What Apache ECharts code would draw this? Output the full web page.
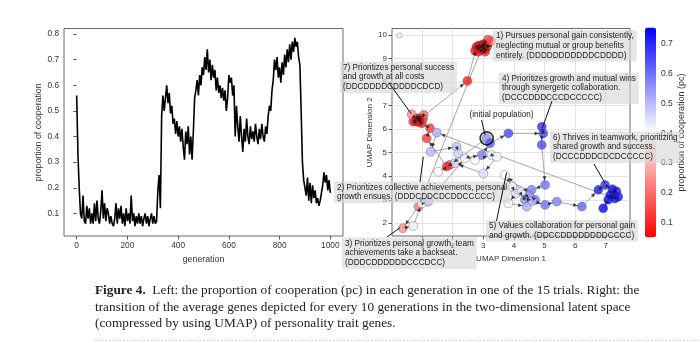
<!DOCTYPE html>
<html>
<head>
<meta charset="utf-8">
<script src="https://cdn.jsdelivr.net/npm/echarts@6/dist/echarts.min.js"></script>
<style>
html, body { margin: 0; padding: 0; background: #fff; }
#chart { width: 700px; height: 343px; }
</style>
</head>
<body>
<div id="chart"></div>
<script>
// ---- Left panel: proportion of cooperation, one value every GEN_STEP generations ----
const GEN_STEP = 5;
const pcByGeneration = [
  0.56,0.33,0.20,0.10,0.08,0.17,0.07,0.06,0.13,0.08,
  0.12,0.06,0.10,0.06,0.14,0.07,0.15,0.08,0.06,0.11,
  0.19,0.08,0.14,0.07,0.12,0.10,0.06,0.09,0.06,0.05,
  0.08,0.14,0.06,0.12,0.08,0.13,0.06,0.10,0.05,0.12,
  0.07,0.10,0.06,0.17,0.07,0.10,0.05,0.09,0.06,0.10,
  0.06,0.09,0.05,0.08,0.10,0.06,0.09,0.05,0.08,0.10,
  0.06,0.09,0.06,0.07,0.19,0.25,0.12,0.48,0.56,0.50,
  0.55,0.60,0.53,0.57,0.49,0.52,0.45,0.47,0.41,0.46,
  0.40,0.44,0.38,0.43,0.36,0.31,0.42,0.37,0.44,0.33,
  0.40,0.31,0.42,0.55,0.58,0.62,0.56,0.64,0.60,0.67,
  0.64,0.71,0.66,0.74,0.65,0.70,0.62,0.68,0.63,0.66,
  0.58,0.63,0.57,0.60,0.55,0.59,0.54,0.58,0.50,0.55,
  0.64,0.61,0.63,0.56,0.60,0.40,0.52,0.44,0.38,0.48,
  0.40,0.34,0.43,0.38,0.47,0.40,0.37,0.44,0.39,0.42,
  0.38,0.45,0.40,0.37,0.43,0.39,0.45,0.40,0.38,0.44,
  0.41,0.48,0.52,0.50,0.58,0.62,0.70,0.66,0.71,0.63,
  0.67,0.61,0.69,0.64,0.72,0.67,0.74,0.69,0.76,0.70,
  0.77,0.73,0.785,0.75,0.77,0.71,0.68,0.50,0.30,0.23,
  0.20,0.17,0.24,0.15,0.22,0.14,0.21,0.16,0.19,0.14,
  0.16,0.13,0.15,0.18,0.21,0.26,0.22,0.25,0.19,0.23,
  0.18
];
const generationTicks = [0, 200, 400, 600, 800, 1000];
const pcTicks = [0.1, 0.2, 0.3, 0.4, 0.5, 0.6, 0.7, 0.8];

// ---- Right panel: average genes every 10 generations in UMAP space, in time order ----
const umapX = [
  3.11, 1.91, 1.80, 1.15, 1.26,
  0.99, 0.83, 0.71, 0.95, 1.03, 0.66, 0.88, 1.05, 0.92, 0.80, 0.90,
  2.48,
  2.78, 2.95, 3.06, 2.84, 3.12, 3.00, 2.89, 3.25, 2.73, 3.02, 2.92, 3.15, 2.85, 3.05, 2.97,
  0.88, 0.37, 0.71, 0.99, 1.20,
  2.40, 2.95, 3.22, 3.82, 4.96, 4.91, 4.91, 5.02,
  4.58, 4.14, 4.36, 4.69, 4.50, 3.71, 3.95, 4.05, 3.82, 4.42, 4.25, 4.60, 5.02, 5.40, 6.22,
  6.76, 6.98, 7.22, 7.41, 7.08, 6.92, 7.35, 7.15, 7.30,
  1.48, 1.28, 2.13, 2.18, 2.73, 3.27, 3.44, 3.00, 2.07, 1.53
];
const umapY = [
  5.61, 4.48, 4.41, 5.61, 6.04,
  6.25, 6.46, 6.32, 6.38, 6.43, 6.63, 6.30, 6.60, 6.45, 6.33, 6.40,
  8.05,
  9.50, 9.57, 9.29, 9.29, 9.50, 9.43, 9.46, 9.74, 9.33, 9.62, 9.38, 9.80, 9.55, 9.40, 9.50,
  2.71, 1.79, 1.89, 2.85, 2.92,
  4.76, 4.90, 5.40, 5.82, 5.82, 6.10, 5.33, 3.63,
  3.42, 3.42, 3.00, 3.00, 3.20, 4.05, 3.55, 3.25, 2.85, 2.71, 3.35, 2.95, 2.78, 2.92, 2.71,
  3.42, 3.63, 3.45, 3.13, 3.00, 2.64, 3.36, 3.20, 3.05,
  5.85, 5.04, 5.25, 4.97, 4.69, 4.90, 4.83, 4.12, 4.55, 4.19
];
const umapPc = [
  0.56, 0.14, 0.10, 0.12, 0.13,
  0.09, 0.12, 0.08, 0.06, 0.14, 0.24, 0.06, 0.19, 0.07, 0.06, 0.08,
  0.08,
  0.07, 0.06, 0.10, 0.09, 0.08, 0.06, 0.05, 0.19, 0.07, 0.06, 0.05, 0.14, 0.06, 0.06, 0.05,
  0.21, 0.25, 0.38, 0.41, 0.50,
  0.42, 0.58, 0.64, 0.66, 0.67, 0.70, 0.66, 0.60,
  0.58, 0.47, 0.55, 0.60, 0.56, 0.40, 0.42, 0.45, 0.40, 0.52, 0.43, 0.50, 0.60, 0.58, 0.62,
  0.72, 0.70, 0.745, 0.74, 0.75, 0.755, 0.73, 0.75, 0.74,
  0.52, 0.50, 0.49, 0.47, 0.40, 0.42, 0.40, 0.45, 0.46, 0.40
];
const umapXTicks = [0, 1, 2, 3, 4, 5, 6, 7];
const umapYTicks = [2, 3, 4, 5, 6, 7, 8, 9, 10];
const colorbarTicks = [0.1, 0.2, 0.3, 0.4, 0.5, 0.6, 0.7];

// ---- Cluster descriptions ----
const noteTexts = [
  ['1) Pursues personal gain consistently,', 'neglecting mutual or group benefits', 'entirely. (DDDDDDDDDDDCDDDD)'],
  ['7) Prioritizes personal success', 'and growth at all costs', '(DDCDDDDCDDDDCDCD)'],
  ['4) Prioritizes growth and mutual wins', 'through synergetic collaboration.', '(DCCCDDDCCCDCCCCC)'],
  ['6) Thrives in teamwork, prioritizing', 'shared growth and success.', '(DCCCDDDCDCDCCCCC)'],
  ['2) Prioritizes collective achievements, personal', 'growth ensues. (DDDCDDCDCDDCCCCC)'],
  ['3) Prioritizes personal growth, team', 'achievements take a backseat.', '(DDDCDDDDDDCCCDCC)'],
  ['5) Values collaboration for personal gain', 'and growth. (DDCCDDDDDDDDCCCC)']
];
// Where each box sits (px), where its pointer leaves the box (px), and the UMAP point it points at
const noteLayout = [
  { box: [493, 30],    from: [492, 46],    to: [3.10, 9.53] },
  { box: [340, 61.5],  from: [389, 83],    to: [0.64, 6.66] },
  { box: [499, 72.5],  from: [552, 101],   to: [4.93, 6.05] },
  { box: [550, 131.5], from: [594, 164],   to: [6.98, 3.70] },
  { box: [334, 181.5], from: [420, 182],   to: [1.04, 4.83] },
  { box: [342, 237.5], from: [387, 237],   to: [0.28, 1.81] },
  { box: [486, 220],   from: [496.5, 221], to: [3.76, 4.16] }
];
const initialLabel = '(initial population)';

const captionLines = [
  'Left: the proportion of cooperation (pc) in each generation in one of the 15 trials. Right: the',
  'transition of the average genes depicted for every 10 generations in the two-dimensional latent space',
  '(compressed by using UMAP) of personality trait genes.'
];

// ---------------------------------------------------------------------------
const SANS = '"Liberation Sans", Arial, sans-serif';
const TICK_FONT = { fontFamily: SANS, fontSize: 8.3, color: '#333' };
const NAME_FONT = { fontFamily: SANS, fontSize: 8.8, color: '#333' };
const FRAME = '#5a5a5a';

const linePoints = pcByGeneration.map((v, i) => [i * GEN_STEP, v]);
const umapPoints = umapX.map((x, i) => [x, umapY[i], umapPc[i]]);
const MARKER_R = 4.5;

function segmentItem(params, api) {
  const i = params.dataIndex;
  if (i === 0) return null;
  const a = api.coord([umapX[i - 1], umapY[i - 1]]);
  const b = api.coord([umapX[i], umapY[i]]);
  return {
    type: 'line',
    shape: { x1: a[0], y1: a[1], x2: b[0], y2: b[1] },
    style: { stroke: '#9c9c9c', lineWidth: 0.9 }
  };
}

function arrowHeadItem(params, api) {
  const i = params.dataIndex;
  if (i === 0) return null;
  const a = api.coord([umapX[i - 1], umapY[i - 1]]);
  const b = api.coord([umapX[i], umapY[i]]);
  const dx = b[0] - a[0], dy = b[1] - a[1];
  const len = Math.hypot(dx, dy);
  if (len < 1) return null;
  const ux = dx / len, uy = dy / len;
  const back = Math.min(MARKER_R, len * 0.4);
  const tip = [b[0] - ux * back, b[1] - uy * back];
  const base = [tip[0] - ux * 4.2, tip[1] - uy * 4.2];
  const nx = -uy * 1.9, ny = ux * 1.9;
  return {
    type: 'polygon',
    shape: { points: [tip, [base[0] + nx, base[1] + ny], [base[0] - nx, base[1] - ny]] },
    style: { fill: '#1e1e1e', opacity: 0.85 }
  };
}

const chart = echarts.init(document.getElementById('chart'), null, { renderer: 'canvas' });

const option = {
  animation: false,
  backgroundColor: '#ffffff',
  grid: [
    { left: 64, top: 28.5, width: 279, height: 207.5, show: true, borderColor: FRAME, borderWidth: 0.9, backgroundColor: 'transparent' },
    { left: 392, top: 28.5, width: 238, height: 207.5, show: true, borderColor: FRAME, borderWidth: 0.9, backgroundColor: 'transparent' },
    { left: 645, top: 27.5, width: 11, height: 210 }
  ],
  xAxis: [
    {
      gridIndex: 0, type: 'value', min: -50, max: 1050,
      name: 'generation', nameLocation: 'middle', nameGap: 15, nameTextStyle: NAME_FONT,
      axisLine: { show: false },
      axisTick: { show: true, inside: false, length: 3.5, lineStyle: { color: '#333', width: 0.8 }, customValues: generationTicks },
      axisLabel: Object.assign({ margin: 6, customValues: generationTicks, formatter: v => String(v) }, TICK_FONT),
      splitLine: { show: false }
    },
    {
      gridIndex: 1, type: 'value', min: 0.016, max: 7.794,
      name: 'UMAP Dimension 1', nameLocation: 'middle', nameGap: 16.5, nameTextStyle: Object.assign({}, NAME_FONT, { fontSize: 8 }),
      axisLine: { show: false },
      axisTick: { show: true, inside: false, length: 3.5, lineStyle: { color: '#333', width: 0.8 }, customValues: umapXTicks },
      axisLabel: Object.assign({ margin: 6, customValues: umapXTicks }, TICK_FONT, { fontSize: 8 }),
      splitLine: { show: true, lineStyle: { color: '#dedede', width: 0.8 } }
    },
    { gridIndex: 2, type: 'value', min: 0, max: 1, show: false }
  ],
  yAxis: [
    {
      gridIndex: 0, type: 'value', min: 0.012, max: 0.8215,
      name: 'proportion of cooperation', nameLocation: 'middle', nameGap: 20, nameTextStyle: NAME_FONT,
      axisLine: { show: false },
      axisTick: { show: true, inside: false, length: 3.5, lineStyle: { color: '#333', width: 0.8 }, customValues: pcTicks },
      axisLabel: Object.assign({ margin: 5, customValues: pcTicks, formatter: v => v.toFixed(1) }, TICK_FONT),
      splitLine: { show: false }
    },
    {
      gridIndex: 1, type: 'value', min: 1.46, max: 10.276,
      name: 'UMAP Dimension 2', nameLocation: 'middle', nameGap: 17, nameTextStyle: Object.assign({}, NAME_FONT, { fontSize: 8 }),
      axisLine: { show: false },
      axisTick: { show: true, inside: false, length: 3.5, lineStyle: { color: '#333', width: 0.8 }, customValues: umapYTicks },
      axisLabel: Object.assign({ margin: 5, customValues: umapYTicks }, TICK_FONT, { fontSize: 8 }),
      splitLine: { show: true, lineStyle: { color: '#dedede', width: 0.8 } }
    },
    {
      gridIndex: 2, type: 'value', min: 0.05, max: 0.755, position: 'right',
      name: 'proportion of cooperation (pc)', nameLocation: 'middle', nameGap: 18, nameRotate: 90,
      nameTextStyle: Object.assign({}, NAME_FONT, { fontSize: 9 }),
      axisLine: { show: false },
      axisTick: { show: true, inside: false, length: 3.5, lineStyle: { color: '#333', width: 0.8 }, customValues: colorbarTicks },
      axisLabel: Object.assign({ margin: 5, customValues: colorbarTicks, formatter: v => v.toFixed(1) }, TICK_FONT, { fontSize: 8.5 }),
      splitLine: { show: false }
    }
  ],
  visualMap: {
    type: 'continuous', seriesIndex: 2, dimension: 2,
    min: 0.05, max: 0.755, calculable: false, hoverLink: false,
    left: 645, top: 27.5, itemWidth: 11, itemHeight: 210, padding: 0,
    inRange: { color: ['#ff0000', '#ffffff', '#0000ff'] }
  },
  legend: {
    left: 396.5, top: 32.5, padding: 0, itemWidth: 5, itemHeight: 5, selectedMode: false,
    formatter: () => '', textStyle: { fontSize: 1 },
    data: [{ name: 'trajectory', icon: 'circle', itemStyle: { color: '#ffffff', borderColor: '#8a8a8a', borderWidth: 0.8 } }]
  },
  series: [
    {
      type: 'line', xAxisIndex: 0, yAxisIndex: 0, data: linePoints,
      showSymbol: false, symbol: 'none', lineStyle: { color: '#000', width: 1.6 }, z: 3
    },
    {
      type: 'custom', xAxisIndex: 1, yAxisIndex: 1, data: umapPoints,
      encode: { x: 0, y: 1 }, renderItem: segmentItem, z: 2, silent: true
    },
    {
      name: 'trajectory', type: 'scatter', xAxisIndex: 1, yAxisIndex: 1, data: umapPoints,
      symbolSize: 9,
      itemStyle: { opacity: 0.78, borderColor: 'rgba(70,70,70,0.75)', borderWidth: 0.6 },
      z: 3
    },
    {
      type: 'custom', xAxisIndex: 1, yAxisIndex: 1, data: umapPoints,
      encode: { x: 0, y: 1 }, renderItem: arrowHeadItem, z: 4, silent: true
    },
    {
      type: 'scatter', xAxisIndex: 1, yAxisIndex: 1, data: [[umapX[0], umapY[0]]],
      symbolSize: 13, itemStyle: { color: 'rgba(0,0,0,0)', borderColor: '#000', borderWidth: 1.7 }, z: 5
    }
  ]
};
chart.setOption(option);

// ---- Annotation boxes, pointers and caption ----
const graphics = [];
noteTexts.forEach((lines, k) => {
  const L = noteLayout[k];
  graphics.push({
    type: 'text', x: L.box[0], y: L.box[1], z: 20,
    style: {
      text: lines.join('\n'), font: '8.2px ' + SANS, fill: '#222',
      backgroundColor: 'rgba(214,214,214,0.6)', padding: [1, 3, 1, 3], lineHeight: 9.8,
      align: 'left', verticalAlign: 'top'
    }
  });
});
noteLayout.forEach(L => {
  const p = chart.convertToPixel({ gridIndex: 1 }, L.to);
  graphics.push({
    type: 'line', z: 21,
    shape: { x1: L.from[0], y1: L.from[1], x2: p[0], y2: p[1] },
    style: { stroke: '#111', lineWidth: 1 }
  });
});
// pointer from the "(initial population)" label to the first point
const initPx = chart.convertToPixel({ gridIndex: 1 }, [3.06, 5.75]);
graphics.push({
  type: 'text', x: 501.5, y: 114.3, z: 20,
  style: { text: initialLabel, font: '8.2px ' + SANS, fill: '#222', align: 'center', verticalAlign: 'middle' }
});
graphics.push({
  type: 'line', z: 21,
  shape: { x1: 481.5, y1: 120, x2: initPx[0], y2: initPx[1] },
  style: { stroke: '#111', lineWidth: 1 }
});

// caption
const SERIF = '"Liberation Serif", "Times New Roman", serif';
const CAP_SIZE = 13.3;
graphics.push({
  type: 'text', x: 95, y: 291, z: 20,
  style: {
    text: '{b|Figure 4.}  ' + captionLines[0],
    font: CAP_SIZE + 'px ' + SERIF, fill: '#222', verticalAlign: 'middle',
    rich: { b: { fontFamily: SERIF, fontSize: CAP_SIZE, fontWeight: 'bold', fill: '#222' } }
  }
});
graphics.push({ type: 'text', x: 95, y: 307.5, z: 20, style: { text: captionLines[1], font: CAP_SIZE + 'px ' + SERIF, fill: '#222', verticalAlign: 'middle' } });
graphics.push({ type: 'text', x: 95, y: 324, z: 20, style: { text: captionLines[2], font: CAP_SIZE + 'px ' + SERIF, fill: '#222', verticalAlign: 'middle' } });
graphics.push({
  type: 'line', z: 20,
  shape: { x1: 95, y1: 340.5, x2: 700, y2: 340.5 },
  style: { stroke: '#c8c8c8', lineWidth: 1, lineDash: [1.5, 2] }
});

chart.setOption({ graphic: graphics });
</script>
</body>
</html>
